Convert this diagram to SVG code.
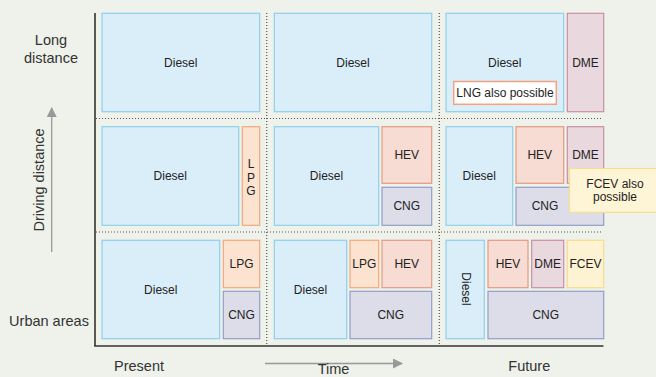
<svg xmlns="http://www.w3.org/2000/svg" width="656" height="377" viewBox="0 0 656 377">
<defs>
<style>
.bg{fill:#eff1eb}
.t{font-family:"Liberation Sans",Arial,sans-serif;fill:#222}
.lbl{font-size:12px;text-anchor:middle}
.side{font-size:14.5px;text-anchor:middle;fill:#333}
.diesel{fill:#daeefa;stroke:#8ecfef;stroke-width:1.2}
.lpg{fill:#fbe3d0;stroke:#f0a97a;stroke-width:1.2}
.hev{fill:#f6dcd2;stroke:#e49a80;stroke-width:1.2}
.cng{fill:#dcdde8;stroke:#8f9fc8;stroke-width:1.2}
.dme{fill:#ead8df;stroke:#c98fa5;stroke-width:1.2}
.fcev{fill:#fdf3d2;stroke:#f6dc8c;stroke-width:1.2}
.note{fill:#fef5d6;stroke:#f8dc90;stroke-width:1.2}
.lng{fill:#ffffff;stroke:#f4a27c;stroke-width:1.5}
.axis{stroke:#333;stroke-width:1.6;fill:none}
.dot{stroke:#555;stroke-width:1.2;stroke-dasharray:1 2;fill:none}
.garrow{stroke:#999;stroke-width:1.3;fill:none}
</style>
<marker id="ah" viewBox="0 0 10 10" refX="9" refY="5" markerWidth="10" markerHeight="10" markerUnits="userSpaceOnUse" orient="auto">
<path d="M0,0 L10,5 L0,10 z" fill="#999"/>
</marker>
</defs>
<rect class="bg" x="0" y="0" width="656" height="377"/>

<g id="connectors">
<line class="dot" x1="96" y1="118.5" x2="603" y2="118.5"/>
<line class="dot" x1="96" y1="232" x2="603" y2="232"/>
<line class="dot" x1="266.7" y1="13" x2="266.7" y2="346"/>
<line class="dot" x1="439.3" y1="13" x2="439.3" y2="346"/>
<line class="axis" x1="95" y1="13" x2="95" y2="346"/>
<line class="axis" x1="94.2" y1="346" x2="603.5" y2="346"/>
<line class="garrow" x1="51.7" y1="252" x2="51.7" y2="108" marker-end="url(#ah)"/>
<line class="garrow" x1="265" y1="363.5" x2="402" y2="363.5" marker-end="url(#ah)"/>
</g>

<g id="axis-labels">
<text class="t side" x="51" y="45">Long</text>
<text class="t side" x="51" y="62.5">distance</text>
<text class="t side" x="49" y="326.3">Urban areas</text>
<text class="t side" transform="translate(44.3,180) rotate(-90)">Driving distance</text>
<text class="t side" x="139" y="370.7" font-size="14">Present</text>
<text class="t side" x="529.3" y="370.7" font-size="14">Future</text>
<text class="t side" x="333.5" y="374" font-size="12">Time</text>
</g>

<!-- Row 1 -->
<g id="r1c1-diesel"><rect class="diesel" x="102" y="13.3" width="157.7" height="98.4"/><text class="t lbl" x="180.8" y="66.5">Diesel</text></g>
<g id="r1c2-diesel"><rect class="diesel" x="274.3" y="13.3" width="157.4" height="98.4"/><text class="t lbl" x="353" y="66.5">Diesel</text></g>
<g id="r1c3-diesel"><rect class="diesel" x="446" y="13.3" width="117.7" height="98.4"/><text class="t lbl" x="504.8" y="66.5">Diesel</text></g>
<g id="r1c3-lng"><rect class="lng" x="453.7" y="81.5" width="102.6" height="22.8"/><text class="t lbl" x="505" y="96.5" font-size="11">LNG also possible</text></g>
<g id="r1c3-dme"><rect class="dme" x="567.3" y="13.3" width="36.4" height="98.4"/><text class="t lbl" x="585.5" y="66.5">DME</text></g>

<!-- Row 2 -->
<g id="r2c1-diesel"><rect class="diesel" x="102" y="126.7" width="136.7" height="98.6"/><text class="t lbl" x="170.3" y="180">Diesel</text></g>
<g id="r2c1-lpg"><rect class="lpg" x="242.3" y="126.7" width="17.4" height="98.6"/><text class="t lbl" x="251" y="168.3">L</text><text class="t lbl" x="251" y="181.5">P</text><text class="t lbl" x="251" y="194.5">G</text></g>
<g id="r2c2-diesel"><rect class="diesel" x="274.3" y="126.7" width="104.4" height="98.6"/><text class="t lbl" x="326.5" y="180">Diesel</text></g>
<g id="r2c2-hev"><rect class="hev" x="382" y="126.7" width="49.7" height="56.6"/><text class="t lbl" x="406.8" y="159">HEV</text></g>
<g id="r2c2-cng"><rect class="cng" x="382" y="187.3" width="49.7" height="38"/><text class="t lbl" x="406.8" y="210.3">CNG</text></g>
<g id="r2c3-diesel"><rect class="diesel" x="446" y="126.7" width="66.7" height="98.6"/><text class="t lbl" x="479.3" y="180">Diesel</text></g>
<g id="r2c3-hev"><rect class="hev" x="516" y="126.7" width="47.7" height="56.6"/><text class="t lbl" x="539.8" y="159">HEV</text></g>
<g id="r2c3-dme"><rect class="dme" x="567.3" y="126.7" width="36.4" height="56.6"/><text class="t lbl" x="585.5" y="159">DME</text></g>
<g id="r2c3-cng"><rect class="cng" x="516" y="187.3" width="87.7" height="38"/><text class="t lbl" x="545" y="210.3">CNG</text></g>
<g id="r2c3-fcev-note"><rect class="note" x="569.5" y="168.5" width="92" height="43.8"/><text class="t lbl" x="615" y="188" font-size="11">FCEV also</text><text class="t lbl" x="615" y="201" font-size="11">possible</text></g>

<!-- Row 3 -->
<g id="r3c1-diesel"><rect class="diesel" x="102" y="240.3" width="117.7" height="98.4"/><text class="t lbl" x="160.8" y="293.5">Diesel</text></g>
<g id="r3c1-lpg"><rect class="lpg" x="223.3" y="240.3" width="36.4" height="47.4"/><text class="t lbl" x="241.5" y="268">LPG</text></g>
<g id="r3c1-cng"><rect class="cng" x="223.3" y="291.3" width="36.4" height="47.4"/><text class="t lbl" x="241.5" y="319">CNG</text></g>
<g id="r3c2-diesel"><rect class="diesel" x="274.3" y="240.3" width="72.4" height="98.4"/><text class="t lbl" x="310.5" y="293.5">Diesel</text></g>
<g id="r3c2-lpg"><rect class="lpg" x="350" y="240.3" width="28.7" height="47.4"/><text class="t lbl" x="364.3" y="268">LPG</text></g>
<g id="r3c2-hev"><rect class="hev" x="382" y="240.3" width="49.7" height="47.4"/><text class="t lbl" x="406.8" y="268">HEV</text></g>
<g id="r3c2-cng"><rect class="cng" x="350" y="291.3" width="81.7" height="47.4"/><text class="t lbl" x="390.8" y="319">CNG</text></g>
<g id="r3c3-diesel"><rect class="diesel" x="446" y="240.3" width="38.3" height="98.4"/><text class="t lbl" transform="translate(461.5,289) rotate(90)">Diesel</text></g>
<g id="r3c3-hev"><rect class="hev" x="488" y="240.3" width="40" height="47.4"/><text class="t lbl" x="508" y="268">HEV</text></g>
<g id="r3c3-dme"><rect class="dme" x="531.7" y="240.3" width="32" height="47.4"/><text class="t lbl" x="547.7" y="268">DME</text></g>
<g id="r3c3-fcev"><rect class="fcev" x="567.3" y="240.3" width="36.4" height="47.4"/><text class="t lbl" x="585.5" y="268">FCEV</text></g>
<g id="r3c3-cng"><rect class="cng" x="488" y="291.3" width="115.7" height="47.4"/><text class="t lbl" x="545.8" y="319">CNG</text></g>
</svg>
